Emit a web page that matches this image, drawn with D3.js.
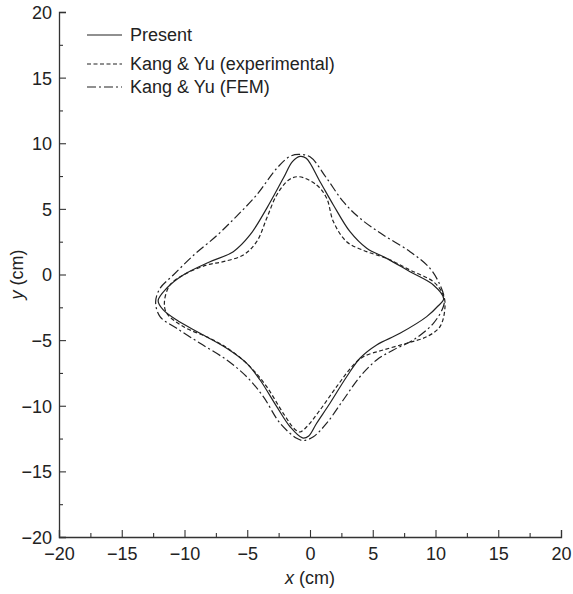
<!DOCTYPE html>
<html>
<head>
<meta charset="utf-8">
<script src="https://cdn.jsdelivr.net/npm/d3@7"></script>
<style>
  html, body { margin: 0; padding: 0; background: #fff; }
  svg text { font-family: "Liberation Sans", Arial, Helvetica, sans-serif; fill: #222; }
</style>
</head>
<body>
<svg id="chart" width="573" height="594"></svg>
<script>
// Axis ticks (cm)
const majorTicks = [-20, -15, -10, -5, 0, 5, 10, 15, 20];
const minorTicks = [-17.5, -12.5, -7.5, -2.5, 2.5, 7.5, 12.5, 17.5];

// Deformed contour, present model: [x, y] in cm, clockwise from the top
const presentPts = [
  [-0.8, 9.0], [-0.3, 8.85], [0.8, 7.07], [1.86, 5.3], [3.19, 3.26], [4.52, 2.0],
  [6.11, 1.23], [7.97, 0.21], [9.83, -0.8], [10.65, -1.85], [10.2, -2.4],
  [9.3, -3.21], [7.17, -4.48], [5.31, -5.37], [3.98, -6.38], [2.92, -7.79],
  [1.59, -9.81], [0.53, -11.33], [-0.1, -12.3], [-0.6, -12.45], [-1.59, -11.6],
  [-2.65, -10.07], [-3.98, -8.04], [-5.04, -6.77], [-6.64, -5.62], [-8.76, -4.48],
  [-10.62, -3.47], [-11.69, -2.7], [-12.1, -2.0], [-11.42, -1.05], [-10.1, -0.04],
  [-7.97, 0.97], [-6.11, 1.74], [-4.78, 3.01], [-3.45, 5.04], [-2.13, 7.33],
  [-1.4, 8.6]
];

// Kang & Yu, experimental contour
const experimentalPts = [
  [-0.9, 7.45], [0.53, 6.82], [1.33, 5.81], [1.86, 4.03], [2.92, 2.5], [4.52, 1.74],
  [6.11, 1.23], [7.97, 0.34], [9.83, -0.55], [10.6, -1.5], [10.76, -2.4],
  [10.36, -3.97], [9.3, -4.74], [7.7, -5.24], [5.84, -5.75], [4.25, -6.26],
  [3.45, -6.9], [2.12, -8.55], [0.8, -10.32], [-0.26, -11.6], [-0.8, -12.0],
  [-1.2, -11.8], [-2.13, -10.58], [-3.45, -8.55], [-4.78, -7.02], [-6.37, -5.75],
  [-7.97, -4.86], [-10.1, -3.97], [-11.42, -2.95], [-11.6, -2.1], [-11.16, -0.8],
  [-10.1, -0.04], [-8.23, 0.72], [-6.91, 0.98], [-5.31, 1.49], [-4.25, 2.5],
  [-3.45, 4.28], [-2.65, 6.06], [-1.7, 7.2]
];

// Kang & Yu, FEM contour
const femPts = [
  [-0.9, 9.15], [0.0, 8.97], [1.33, 7.33], [2.65, 5.55], [3.98, 4.28], [5.84, 3.01],
  [7.97, 1.74], [9.56, 0.47], [10.36, -0.8], [10.7, -1.8], [10.62, -2.46],
  [9.83, -3.72], [8.23, -4.99], [6.64, -5.75], [5.31, -6.51], [3.98, -7.79],
  [2.65, -9.56], [1.33, -11.33], [0.27, -12.36], [-0.5, -12.65], [-1.06, -12.48],
  [-2.39, -11.33], [-3.72, -9.31], [-5.04, -7.79], [-6.64, -6.51], [-8.76, -5.24],
  [-10.62, -4.1], [-11.95, -3.21], [-12.3, -2.1], [-11.95, -1.05], [-10.89, -0.04],
  [-9.3, 1.45], [-7.44, 2.95], [-5.84, 4.45], [-4.25, 6.06], [-2.65, 8.09],
  [-1.6, 9.0]
];

const seriesNames = ["Present", "Kang & Yu (experimental)", "Kang & Yu (FEM)"];

const svg = d3.select("#chart");
const margin = { left: 59, right: 12, top: 12, bottom: 57 };
const W = 573, H = 594;

const x = d3.scaleLinear().domain([-20, 20]).range([margin.left, W - margin.right]);
const y = d3.scaleLinear().domain([-20, 20]).range([H - margin.bottom, margin.top]);

const ink = "#222";
const fontSize = 18;

// x axis: ticks point up into the plot
const xAxis = svg.append("g").attr("transform", `translate(0,${y(-20)})`);
xAxis.call(d3.axisBottom(x).tickValues(majorTicks).tickSize(-7).tickPadding(10)
  .tickFormat(d3.format("d")));
xAxis.append("g").call(d3.axisBottom(x).tickValues(minorTicks).tickSize(-4).tickFormat(""));

// y axis: ticks point right into the plot
const yAxis = svg.append("g").attr("transform", `translate(${x(-20)},0)`);
yAxis.call(d3.axisLeft(y).tickValues(majorTicks).tickSize(-7).tickPadding(7)
  .tickFormat(d3.format("d")));
yAxis.append("g").call(d3.axisLeft(y).tickValues(minorTicks).tickSize(-4).tickFormat(""));

svg.selectAll(".domain").attr("stroke", "#333").attr("stroke-width", 1.3);
svg.selectAll(".tick line").attr("stroke", "#333").attr("stroke-width", 1.1);
svg.selectAll(".tick text").attr("font-size", fontSize)
  .attr("font-family", '"Liberation Sans", Arial, sans-serif').attr("fill", ink);
yAxis.selectAll(".tick text").attr("dy", "0.36em");
xAxis.selectAll(".domain").filter((d, i) => i > 0).remove();
yAxis.selectAll(".domain").filter((d, i) => i > 0).remove();

// axis titles
const xt = svg.append("text").attr("x", x(0)).attr("y", 584)
  .attr("text-anchor", "middle").attr("font-size", fontSize);
xt.append("tspan").attr("font-style", "italic").text("x");
xt.append("tspan").text(" (cm)");

const yt = svg.append("text")
  .attr("transform", `translate(23,${y(0)}) rotate(-90)`)
  .attr("text-anchor", "middle").attr("font-size", fontSize);
yt.append("tspan").attr("font-style", "italic").text("y");
yt.append("tspan").text(" (cm)");

// contours
const line = d3.line().x(d => x(d[0])).y(d => y(d[1]))
  .curve(d3.curveCatmullRomClosed.alpha(0.5));

const styles = [
  { data: presentPts, dash: null },
  { data: experimentalPts, dash: "4,2.5" },
  { data: femPts, dash: "9,3,2,3" }
];

svg.append("g").selectAll("path").data(styles).join("path")
  .attr("d", d => line(d.data))
  .attr("fill", "none")
  .attr("stroke", ink)
  .attr("stroke-width", 1.2)
  .attr("stroke-dasharray", d => d.dash);

// legend
const legendRows = [35, 64, 87];
const legend = svg.append("g");
styles.forEach((s, i) => {
  legend.append("line")
    .attr("x1", 87).attr("x2", 122)
    .attr("y1", legendRows[i]).attr("y2", legendRows[i])
    .attr("stroke", ink).attr("stroke-width", 1.2)
    .attr("stroke-dasharray", s.dash);
  legend.append("text")
    .attr("x", 130).attr("y", legendRows[i]).attr("dy", "0.36em")
    .attr("font-size", fontSize)
    .text(seriesNames[i]);
});
</script>
</body>
</html>
